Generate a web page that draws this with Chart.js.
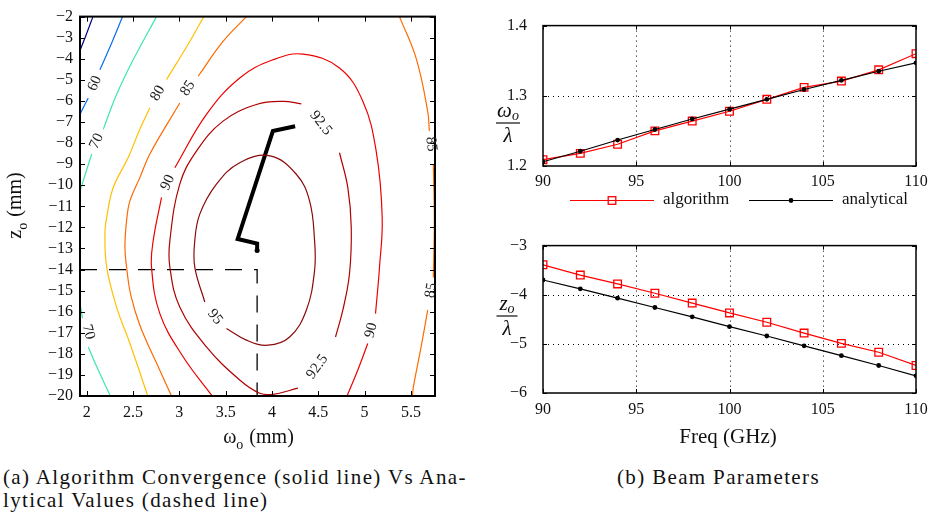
<!DOCTYPE html>
<html>
<head>
<meta charset="utf-8">
<script src="https://cdn.jsdelivr.net/npm/chart.js@4.4.1/dist/chart.umd.min.js"></script>
<style>
  html, body { margin: 0; padding: 0; background: #fff; }
  body { width: 936px; height: 515px; position: relative; overflow: hidden; font-family: "Liberation Serif", serif; }
  canvas { position: absolute; }
  .cap { position: absolute; font-size: 21px; line-height: 23px; letter-spacing: 1.35px; color: #111; white-space: nowrap; }
</style>
</head>
<body>
<canvas id="conv" width="460" height="460" style="left:0;top:0"></canvas>
<canvas id="waist" width="476" height="220" style="left:460px;top:0"></canvas>
<canvas id="pos" width="476" height="240" style="left:460px;top:220px"></canvas>
<div class="cap" style="left:3px;top:466px">(a) Algorithm Convergence (solid line) Vs Ana-<br>lytical Values (dashed line)</div>
<div class="cap" style="left:617px;top:466px">(b) Beam Parameters</div>
<script>
// ---- beam parameters vs frequency (right panels) ----
const freqs = [90, 92, 94, 96, 98, 100, 102, 104, 106, 108, 110];
const waistAlgorithm  = [1.209, 1.218, 1.231, 1.250, 1.264, 1.278, 1.295, 1.312, 1.321, 1.337, 1.360];
const waistAnalytical = [1.206, 1.221, 1.237, 1.252, 1.267, 1.281, 1.295, 1.309, 1.322, 1.335, 1.347];
const posAlgorithm  = [-3.39, -3.60, -3.78, -3.97, -4.17, -4.37, -4.56, -4.78, -4.99, -5.17, -5.44];
const posAnalytical = [-3.70, -3.88, -4.07, -4.26, -4.45, -4.65, -4.84, -5.04, -5.24, -5.44, -5.65];
const freqTicks = [90, 95, 100, 105, 110];
const waistTicks = [1.2, 1.3, 1.4];
const posTicks = [-6, -5, -4, -3];
const seriesNames = ['algorithm', 'analytical'];

// ---- convergence contour map (left panel) ----
const w0Range = [1.928, 5.76];
const z0Range = [-20, -2];
const w0Ticks = [2, 2.5, 3, 3.5, 4, 4.5, 5, 5.5];
const z0Ticks = [-2, -3, -4, -5, -6, -7, -8, -9, -10, -11, -12, -13, -14, -15, -16, -17, -18, -19, -20];
const levels = [50, 60, 70, 80, 85, 90, 92.5, 95];

// contour segments per level, [w0, z0] points, split where the labels sit
const c50 = [
  [[2.068, -2], [2.0, -2.8], [1.928, -3.61]]
];
const c60 = [
  [[2.388, -2], [2.27, -3.25], [2.143, -4.52]],
  [[2.017, -5.86], [1.928, -6.63]],
  [[1.928, -19.75], [1.937, -20]]
];
const c70 = [
  [[2.754, -2], [2.502, -4.05], [2.323, -5.70], [2.179, -7.35]],
  [[2.054, -8.52], [1.928, -10.27]],
  [[1.928, -15.62], [1.955, -16.31]],
  [[2.017, -17.67], [2.125, -18.77], [2.255, -20]]
];
const c80 = [
  [[3.264, -2], [3.113, -3.18], [2.862, -4.99]],
  [[2.682, -6.33], [2.574, -7.34], [2.448, -8.69], [2.287, -10.11], [2.216, -11.53], [2.197, -12.30],
   [2.216, -13.89], [2.323, -15.78], [2.467, -17.51], [2.66, -20]]
];
const c85 = [
  [[3.724, -2], [3.472, -3.18], [3.203, -4.83]],
  [[3.005, -6.10], [2.682, -8.52], [2.574, -9.64], [2.467, -10.74], [2.431, -11.68], [2.413, -12.94],
   [2.431, -13.89], [2.477, -15.23], [2.574, -16.64], [2.754, -18.44], [2.916, -20]],
  [[5.376, -2], [5.556, -3.97], [5.681, -6.49], [5.699, -7.43]],
  [[5.742, -8.99], [5.753, -11.68], [5.742, -14.38]],
  [[5.681, -15.93], [5.61, -17.67], [5.527, -19.56], [5.516, -20]]
];
const c90 = [
  [[2.952, -9.17], [3.293, -6.64], [3.652, -4.91], [4.011, -4.05], [4.334, -3.78], [4.729, -4.44],
   [4.981, -6.02], [5.125, -8.38], [5.19, -11.53], [5.161, -13.89], [5.118, -16.09]],
  [[5.034, -17.51], [4.927, -18.77], [4.81, -20]],
  [[2.808, -10.58], [2.718, -12.63], [2.70, -13.89], [2.79, -16.09], [3.041, -18.14], [3.356, -20]]
];
const c925 = [
  [[4.317, -6.14], [4.119, -6.02], [3.832, -6.17], [3.472, -6.96], [3.185, -8.38], [3.005, -9.95],
   [2.898, -12.63], [2.898, -13.89], [3.005, -15.78], [3.293, -17.67], [3.652, -19.24], [3.868, -19.87],
   [4.011, -19.92], [4.28, -19.63]],
  [[4.729, -8.46], [4.819, -10.11], [4.856, -12.0], [4.837, -14.2], [4.765, -15.93], [4.686, -17.2]]
];
const c95 = [
  [[3.509, -16.80], [3.724, -17.35], [3.957, -17.59], [4.191, -17.20], [4.371, -15.93], [4.46, -14.05],
   [4.46, -12.63], [4.406, -10.74], [4.263, -9.48], [3.98, -8.61], [3.652, -8.93], [3.401, -9.95],
   [3.221, -11.37], [3.167, -12.63], [3.167, -13.89], [3.275, -15.54]]
];
const contourLevels = [c50, c60, c70, c80, c85, c90, c925, c95];

// inline contour labels
const labelText   = ['60', '70', '70', '80', '85', '85', '85', '90', '90', '92.5', '92.5', '95'];
const labelW0     = [2.089, 2.108, 2.017, 2.768, 3.092, 5.718, 5.718, 2.876, 5.071, 4.527, 4.49, 3.385];
const labelZ0     = [-5.17, -7.91, -16.96, -5.64, -5.40, -8.05, -14.99, -9.87, -16.88, -7.05, -18.61, -16.25];
const labelAngles = [-67, -65, 75, -60, -56, 83, -80, -66, -76, 52, -54, 51];

// algorithm path and analytical optimum
const pathW0 = [4.25, 4.01, 3.63, 3.84, 3.84];
const pathZ0 = [-7.2, -7.43, -12.55, -12.77, -13.1];
const optimumW0 = 3.84;
const optimumZ0 = -14;

// -------------------------------------------------------------
const SERIF = '"Liberation Serif", "Times New Roman", serif';
const levelColors = ['#00007f', '#0a6cf0', '#3de8a8', '#ffc000', '#ff6a00', '#ee0000', '#b00000', '#8a0a0a'];
const fmt = v => String(v).replace('-', '\u2212');

function linearAxis(range, ticks, fixed, isX, pad) {
  return {
    type: 'linear',
    min: range[0],
    max: range[1],
    grid: { display: false, drawTicks: false },
    border: { display: false },
    afterBuildTicks: s => { s.ticks = ticks.map(v => ({ value: v })); },
    afterFit: s => { if (isX) s.height = fixed; else s.width = fixed; },
    ticks: {
      autoSkip: false, maxRotation: 0, padding: pad, color: '#111',
      font: { family: SERIF, size: 16 },
      callback: v => fmt(v)
    }
  };
}

// frame: box, inward ticks on all four sides, optional dotted grid
const frame = {
  id: 'frame',
  beforeDatasetsDraw(chart, args, opts) {
    if (!opts.grid) return;
    const { ctx, chartArea: a, scales: { x, y } } = chart;
    ctx.save();
    ctx.strokeStyle = '#000';
    ctx.lineWidth = 1;
    ctx.setLineDash([1, 4]);
    ctx.beginPath();
    x.ticks.forEach(t => {
      const px = Math.round(x.getPixelForValue(t.value)) + 0.5;
      if (px - a.left < 2 || a.right - px < 2) return;
      ctx.moveTo(px, a.top); ctx.lineTo(px, a.bottom);
    });
    y.ticks.forEach(t => {
      const py = Math.round(y.getPixelForValue(t.value)) + 0.5;
      if (py - a.top < 2 || a.bottom - py < 2) return;
      ctx.moveTo(a.left, py); ctx.lineTo(a.right, py);
    });
    ctx.stroke();
    ctx.restore();
  },
  afterDraw(chart, args, opts) {
    const { ctx, chartArea: a, scales: { x, y } } = chart;
    const t = opts.tickLen;
    ctx.save();
    ctx.strokeStyle = '#000';
    ctx.lineWidth = 1;
    ctx.beginPath();
    x.ticks.forEach(tk => {
      const px = Math.round(x.getPixelForValue(tk.value)) + 0.5;
      ctx.moveTo(px, a.bottom); ctx.lineTo(px, a.bottom - t);
      ctx.moveTo(px, a.top); ctx.lineTo(px, a.top + t);
    });
    y.ticks.forEach(tk => {
      const py = Math.round(y.getPixelForValue(tk.value)) + 0.5;
      ctx.moveTo(a.left, py); ctx.lineTo(a.left + t, py);
      ctx.moveTo(a.right, py); ctx.lineTo(a.right - t, py);
    });
    ctx.stroke();
    ctx.lineWidth = opts.border;
    ctx.strokeRect(a.left, a.top, a.right - a.left, a.bottom - a.top);
    ctx.restore();
    if (opts.decorate) opts.decorate(chart);
  }
};

function subText(ctx, main, sub, rest, x, y, size) {
  const big = size + 'px ' + SERIF;
  const small = Math.round(size * 0.68) + 'px ' + SERIF;
  ctx.font = big;
  const w1 = ctx.measureText(main).width, w3 = ctx.measureText(rest).width;
  ctx.font = small;
  const w2 = ctx.measureText(sub).width;
  const x0 = x - (w1 + w2 + w3) / 2;
  ctx.textAlign = 'left';
  ctx.textBaseline = 'alphabetic';
  ctx.font = big; ctx.fillText(main, x0, y);
  ctx.font = small; ctx.fillText(sub, x0 + w1, y + size * 0.3);
  ctx.font = big; ctx.fillText(rest, x0 + w1 + w2 + 1, y);
}

function fraction(ctx, cx, barY, num, sub, den, barW) {
  const big = 'italic 21px ' + SERIF, small = 'italic 14px ' + SERIF;
  ctx.font = big;
  const w = ctx.measureText(num).width;
  ctx.font = small;
  const ws = ctx.measureText(sub).width;
  const x0 = cx - (w + ws) / 2;
  ctx.textAlign = 'left';
  ctx.textBaseline = 'alphabetic';
  ctx.font = big; ctx.fillText(num, x0, barY - 6);
  ctx.font = small; ctx.fillText(sub, x0 + w, barY - 3);
  ctx.fillRect(cx - barW / 2, barY - 0.6, barW, 1.2);
  ctx.font = big; ctx.textAlign = 'center'; ctx.fillText(den, cx, barY + 19);
}

// ---- left: contour chart ----
const convSets = [];
contourLevels.forEach((segs, i) => {
  segs.forEach(seg => convSets.push({
    data: seg.map(([x, y]) => ({ x, y })),
    showLine: true, borderColor: levelColors[i], borderWidth: 1.2,
    pointRadius: 0, tension: 0.4, fill: false
  }));
});
convSets.push({
  data: [{ x: w0Range[0], y: optimumZ0 }, { x: optimumW0, y: optimumZ0 }, { x: optimumW0, y: z0Range[0] }],
  showLine: true, borderColor: '#000', borderWidth: 1.3, borderDash: [17, 12],
  pointRadius: 0, tension: 0
});
convSets.push({
  data: pathW0.map((x, i) => ({ x, y: pathZ0[i] })),
  showLine: true, borderColor: '#000', borderWidth: 4, borderJoinStyle: 'miter',
  pointRadius: pathW0.map((v, i) => i === pathW0.length - 1 ? 2.5 : 0),
  pointBackgroundColor: '#000', pointBorderWidth: 0, tension: 0
});

new Chart(document.getElementById('conv'), {
  type: 'scatter',
  data: { datasets: convSets },
  options: {
    responsive: false, animation: false, devicePixelRatio: 1,
    layout: { padding: { left: 0, right: 25, top: 15, bottom: 0 } },
    plugins: {
      legend: { display: false }, tooltip: { enabled: false },
      frame: {
        tickLen: 5, border: 2,
        decorate(chart) {
          const { ctx, scales: { x, y } } = chart;
          ctx.save();
          ctx.fillStyle = '#222';
          ctx.font = '15px ' + SERIF;
          ctx.textAlign = 'center';
          ctx.textBaseline = 'middle';
          labelText.forEach((txt, i) => {
            ctx.save();
            ctx.translate(x.getPixelForValue(labelW0[i]), y.getPixelForValue(labelZ0[i]));
            ctx.rotate(labelAngles[i] * Math.PI / 180);
            ctx.fillText(txt, 0, 0);
            ctx.restore();
          });
          ctx.fillStyle = '#111';
          subText(ctx, '\u03c9', 'o', ' (mm)', 258, 443, 20);
          ctx.translate(21, 206);
          ctx.rotate(-Math.PI / 2);
          subText(ctx, 'z', 'o', ' (mm)', 0, 0, 20);
          ctx.restore();
        }
      }
    },
    scales: {
      x: linearAxis(w0Range, w0Ticks, 64, true, 7),
      y: linearAxis(z0Range, z0Ticks, 80, false, 7)
    }
  },
  plugins: [frame]
});

// ---- right: beam parameter charts ----
function beamChart(id, algo, anal, yRange, yTicks, pad, decorate) {
  return new Chart(document.getElementById(id), {
    type: 'line',
    data: {
      datasets: [
        {
          label: seriesNames[1], order: 0,
          data: freqs.map((f, i) => ({ x: f, y: anal[i] })),
          borderColor: '#000', borderWidth: 1.2, tension: 0,
          pointStyle: 'circle', pointRadius: 2.4, pointBackgroundColor: '#000', pointBorderWidth: 0
        },
        {
          label: seriesNames[0], order: 1,
          data: freqs.map((f, i) => ({ x: f, y: algo[i] })),
          borderColor: '#ff0000', borderWidth: 1.2, tension: 0,
          pointStyle: 'rect', pointRadius: 5.4, pointBorderColor: '#ff0000',
          pointBackgroundColor: 'rgba(0,0,0,0)', pointBorderWidth: 1.3
        }
      ]
    },
    options: {
      responsive: false, animation: false, devicePixelRatio: 1,
      layout: { padding: pad.layout },
      plugins: {
        legend: { display: false }, tooltip: { enabled: false },
        frame: { tickLen: 4, border: 1.5, grid: true, decorate }
      },
      scales: {
        x: linearAxis([freqs[0], freqs[freqs.length - 1]], freqTicks, pad.xh, true, pad.xp),
        y: linearAxis(yRange, yTicks, 83, false, 16)
      }
    },
    plugins: [frame]
  });
}

beamChart('waist', waistAlgorithm, waistAnalytical, [1.2, 1.4], waistTicks,
  { layout: { left: 0, right: 20, top: 15, bottom: 0 }, xh: 54, xp: 6 },
  chart => {
    const ctx = chart.ctx;
    ctx.save();
    ctx.fillStyle = '#111';
    fraction(ctx, 48, 123, '\u03c9', 'o', '\u03bb', 24);
    // legend row
    const items = [chart.data.datasets[1], chart.data.datasets[0]];
    const starts = [110, 289];
    const ly = 200;
    items.forEach((ds, i) => {
      const x0 = starts[i], x1 = x0 + 84, xm = (x0 + x1) / 2;
      ctx.strokeStyle = ds.borderColor;
      ctx.lineWidth = 1.2;
      ctx.beginPath(); ctx.moveTo(x0, ly + 0.5); ctx.lineTo(x1, ly + 0.5); ctx.stroke();
      if (ds.pointStyle === 'rect') {
        ctx.lineWidth = 1.3;
        ctx.strokeRect(xm - 3.8, ly + 0.5 - 3.8, 7.6, 7.6);
      } else {
        ctx.fillStyle = ds.borderColor;
        ctx.beginPath(); ctx.arc(xm, ly + 0.5, 2.4, 0, Math.PI * 2); ctx.fill();
      }
      ctx.fillStyle = '#111';
      ctx.font = '17px ' + SERIF;
      ctx.textAlign = 'left';
      ctx.textBaseline = 'middle';
      ctx.fillText(ds.label, x1 + 9, ly);
    });
    ctx.restore();
  });

beamChart('pos', posAlgorithm, posAnalytical, [-6, -3], posTicks,
  { layout: { left: 0, right: 20, top: 23, bottom: 0 }, xh: 67, xp: 7 },
  chart => {
    const ctx = chart.ctx;
    ctx.save();
    ctx.fillStyle = '#111';
    fraction(ctx, 47, 96, 'z', 'o', '\u03bb', 21);
    ctx.font = '21px ' + SERIF;
    ctx.textAlign = 'center';
    ctx.textBaseline = 'alphabetic';
    ctx.fillText('Freq (GHz)', 268, 223);
    ctx.restore();
  });
</script>
</body>
</html>
